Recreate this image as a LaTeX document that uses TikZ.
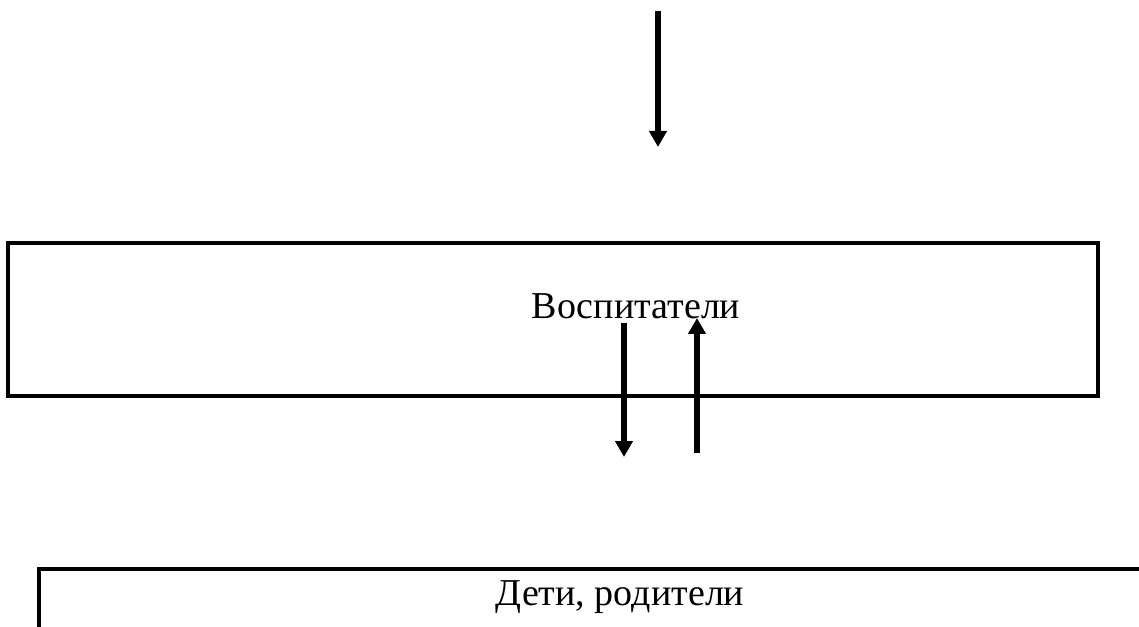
\documentclass[tikz,border=0pt]{standalone}
\usepackage{fontspec}
\setmainfont{Liberation Serif}
\usetikzlibrary{arrows.meta}
\tikzset{
  boxline/.style={line width=2.4pt, line cap=rect},
  flow/.style={line width=3.8pt, -{Triangle[width=12.75pt,length=12pt]}},
  lbl/.style={anchor=base, inner sep=0pt, font=\fontsize{28.5}{34}\selectfont}
}
\begin{document}
\begin{tikzpicture}[x=0.75pt,y=-0.75pt]
\useasboundingbox (0,0) rectangle (1139,627);
% upper box
\draw[boxline] (8,243) rectangle (1098,396);
\node[lbl] (vosp) at (636,319) {Воспитатели};
% lower open box
\coordinate (bl) at (39,627);
\coordinate (tl) at (39,569);
\coordinate (tr) at (1139,569);
\draw[boxline, line cap=butt] (bl) -- (tl) -- (tr);
\node[lbl] (deti) at (620,605) {Дети, родители};
% arrows
\coordinate (a1s) at (658,11);
\coordinate (a1e) at (658,147);
\draw[flow] (a1s) -- (a1e);
\coordinate (a2s) at (624,323);
\coordinate (a2e) at (624,457);
\draw[flow] (a2s) -- (a2e);
\coordinate (a3s) at (697,453);
\coordinate (a3e) at (697,318);
\draw[flow] (a3s) -- (a3e);
\end{tikzpicture}
\end{document}
